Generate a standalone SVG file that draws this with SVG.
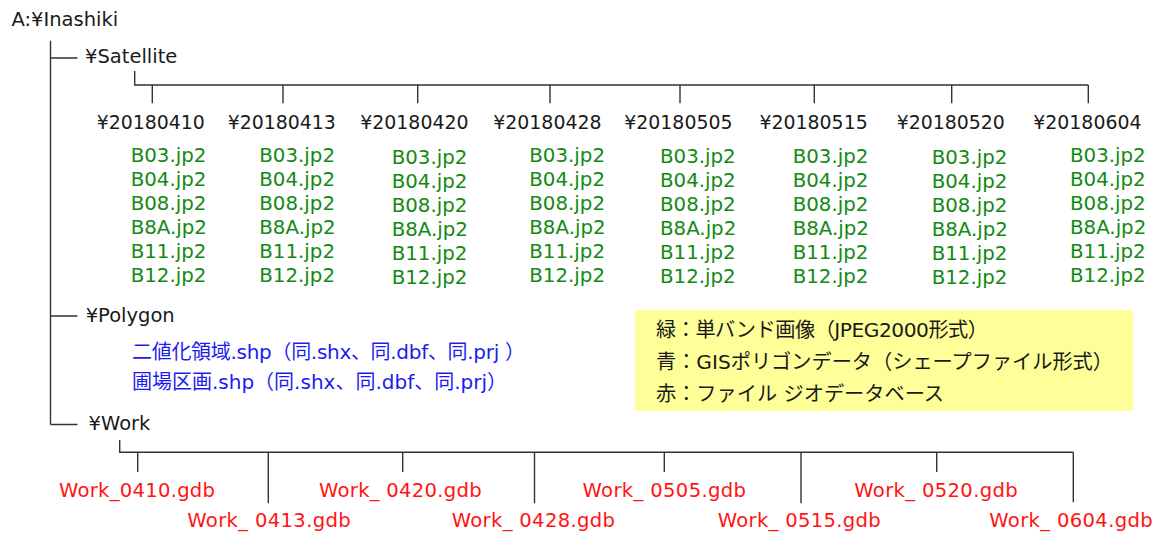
<svg xmlns="http://www.w3.org/2000/svg" width="1161" height="533" viewBox="0 0 1161 533">
<style>
text{font-family:"DejaVu Sans","Noto Sans CJK JP",sans-serif;font-size:19.5px;}
.k{fill:#1a1a1a;}
.d{font-size:18.9px;fill:#1a1a1a;}
.g{fill:#128a12;font-size:19.8px;}
.b{fill:#1c1cf0;font-size:20px;}
.r{fill:#ff1414;font-size:19.6px;}
.j{fill:#1a1a1a;font-size:20.2px;}
.ln{stroke:#333;stroke-width:1.4;fill:none;}
</style>
<rect width="1161" height="533" fill="#fff"/>
<g id="connectors" class="ln">
<path d="M50.5 40.7V424.5M50.5 58H77.5M50.5 316H77.5M50.5 424.5H77.5"/>
<path d="M134.7 71V85H1088.3M152.3 85V103.3M283 85V103.3M417.7 85V103.3M550 85V103.3M680 85V103.3M814.3 85V103.3M951.7 85V103.3M1088.3 85V103.3"/>
<path d="M119.7 440V452.3H1073.3M137.7 452.3V472M268.3 452.3V503.3M402.7 452.3V472M534.5 452.3V503.3M664.3 452.3V472M801 452.3V503.3M936.7 452.3V472M1073.3 452.3V502.3"/>
</g>
<g id="root"><text class="k" x="11.5" y="26">A:¥Inashiki</text></g>
<g id="satellite"><text class="k" x="85" y="63.3">¥Satellite</text></g>
<g id="d20180410"><text class="d" x="96.7" y="129.3">¥20180410</text>
<text class="g"><tspan x="130.7" y="161.5">B03.jp2</tspan><tspan x="130.7" y="185.5">B04.jp2</tspan><tspan x="130.7" y="209.5">B08.jp2</tspan><tspan x="130.7" y="233.5">B8A.jp2</tspan><tspan x="130.7" y="257.5">B11.jp2</tspan><tspan x="130.7" y="281.5">B12.jp2</tspan></text></g>
<g id="d20180413"><text class="d" x="227.7" y="129.3">¥20180413</text>
<text class="g"><tspan x="259.3" y="161.5">B03.jp2</tspan><tspan x="259.3" y="185.5">B04.jp2</tspan><tspan x="259.3" y="209.5">B08.jp2</tspan><tspan x="259.3" y="233.5">B8A.jp2</tspan><tspan x="259.3" y="257.5">B11.jp2</tspan><tspan x="259.3" y="281.5">B12.jp2</tspan></text></g>
<g id="d20180420"><text class="d" x="360.3" y="129.3">¥20180420</text>
<text class="g"><tspan x="391.7" y="164">B03.jp2</tspan><tspan x="391.7" y="188">B04.jp2</tspan><tspan x="391.7" y="212">B08.jp2</tspan><tspan x="391.7" y="236">B8A.jp2</tspan><tspan x="391.7" y="260">B11.jp2</tspan><tspan x="391.7" y="284">B12.jp2</tspan></text></g>
<g id="d20180428"><text class="d" x="493.3" y="129.3">¥20180428</text>
<text class="g"><tspan x="529.3" y="161.5">B03.jp2</tspan><tspan x="529.3" y="185.5">B04.jp2</tspan><tspan x="529.3" y="209.5">B08.jp2</tspan><tspan x="529.3" y="233.5">B8A.jp2</tspan><tspan x="529.3" y="257.5">B11.jp2</tspan><tspan x="529.3" y="281.5">B12.jp2</tspan></text></g>
<g id="d20180505"><text class="d" x="624.3" y="129.3">¥20180505</text>
<text class="g"><tspan x="660" y="162.5">B03.jp2</tspan><tspan x="660" y="186.5">B04.jp2</tspan><tspan x="660" y="210.5">B08.jp2</tspan><tspan x="660" y="234.5">B8A.jp2</tspan><tspan x="660" y="258.5">B11.jp2</tspan><tspan x="660" y="282.5">B12.jp2</tspan></text></g>
<g id="d20180515"><text class="d" x="759.5" y="129.3">¥20180515</text>
<text class="g"><tspan x="792.7" y="162.5">B03.jp2</tspan><tspan x="792.7" y="186.5">B04.jp2</tspan><tspan x="792.7" y="210.5">B08.jp2</tspan><tspan x="792.7" y="234.5">B8A.jp2</tspan><tspan x="792.7" y="258.5">B11.jp2</tspan><tspan x="792.7" y="282.5">B12.jp2</tspan></text></g>
<g id="d20180520"><text class="d" x="896.7" y="129.3">¥20180520</text>
<text class="g"><tspan x="931.7" y="163.5">B03.jp2</tspan><tspan x="931.7" y="187.5">B04.jp2</tspan><tspan x="931.7" y="211.5">B08.jp2</tspan><tspan x="931.7" y="235.5">B8A.jp2</tspan><tspan x="931.7" y="259.5">B11.jp2</tspan><tspan x="931.7" y="283.5">B12.jp2</tspan></text></g>
<g id="d20180604"><text class="d" x="1033.3" y="129.3">¥20180604</text>
<text class="g"><tspan x="1070" y="161.5">B03.jp2</tspan><tspan x="1070" y="185.5">B04.jp2</tspan><tspan x="1070" y="209.5">B08.jp2</tspan><tspan x="1070" y="233.5">B8A.jp2</tspan><tspan x="1070" y="257.5">B11.jp2</tspan><tspan x="1070" y="281.5">B12.jp2</tspan></text></g>
<g id="polygon"><text class="k" x="85.7" y="322">¥Polygon</text>
<text class="b" x="132" y="359" textLength="393" lengthAdjust="spacing">二値化領域.shp（同.shx、同.dbf、同.prj ）</text>
<text class="b" x="132" y="389" textLength="375" lengthAdjust="spacing">圃場区画.shp（同.shx、同.dbf、同.prj）</text></g>
<g id="legend"><rect x="635" y="310" width="498" height="101" fill="#ffff99"/>
<text class="j" x="656" y="337" textLength="332" lengthAdjust="spacing">緑：単バンド画像（JPEG2000形式）</text>
<text class="j" x="656" y="369" textLength="457" lengthAdjust="spacing">青：GISポリゴンデータ（シェープファイル形式）</text>
<text class="j" x="656" y="401" textLength="288" lengthAdjust="spacing">赤：ファイル ジオデータベース</text></g>
<g id="work"><text class="k" x="88.6" y="430">¥Work</text></g>
<g id="w0410"><text class="r" x="59" y="496.7" textLength="156">Work_0410.gdb</text></g>
<g id="w0413"><text class="r" x="187.3" y="527.3" textLength="163.4">Work_ 0413.gdb</text></g>
<g id="w0420"><text class="r" x="319" y="496.7" textLength="162.7">Work_ 0420.gdb</text></g>
<g id="w0428"><text class="r" x="451.7" y="527.3" textLength="163.3">Work_ 0428.gdb</text></g>
<g id="w0505"><text class="r" x="582.5" y="496.7" textLength="163.5">Work_ 0505.gdb</text></g>
<g id="w0515"><text class="r" x="717.7" y="527.3" textLength="163">Work_ 0515.gdb</text></g>
<g id="w0520"><text class="r" x="854.3" y="496.7" textLength="163.4">Work_ 0520.gdb</text></g>
<g id="w0604"><text class="r" x="989.3" y="527.3" textLength="163.4">Work_ 0604.gdb</text></g>
</svg>
